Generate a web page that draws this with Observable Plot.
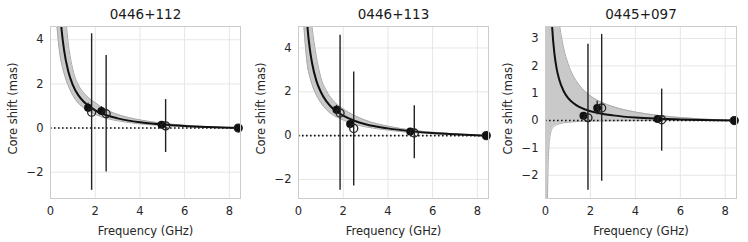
<!DOCTYPE html>
<html>
<head>
<meta charset="utf-8">
<script src="https://cdn.jsdelivr.net/npm/d3@7"></script>
<script src="https://cdn.jsdelivr.net/npm/@observablehq/plot@0.6"></script>
<style>
  html, body { margin: 0; padding: 0; background: #fff; }
  #wrap { position: relative; width: 748px; height: 242px; overflow: hidden; }
  #wrap > div { position: absolute; top: 0; }
  svg { overflow: visible; }
</style>
</head>
<body>
<div id="wrap"><div id="p1"></div><div id="p2"></div><div id="p3"></div></div>
<script>
// ---- Data ----
const titles = ["0446+112", "0446+113", "0445+097"];
const xTicks = [0, 2, 4, 6, 8];
const yTicks1 = [-2, 0, 2, 4];
const yTicks2 = [-2, 0, 2, 4];
const yTicks3 = [-2, -1, 0, 1, 2, 3];

// model curve + uncertainty band sampled at these frequencies (GHz)
const freqs1 = [0.1,0.2,0.3,0.4,0.5,0.6,0.8,1.0,1.25,1.5,2,2.5,3,4,5,6,7,8.4];
const center1 = [27.0,12.5,7.91,5.71,4.42,3.58,2.55,1.95,1.48,1.18,0.80,0.58,0.44,0.26,0.16,0.093,0.047,0];
const lower1  = [11.5,6.0,4.5,3.5,2.9,2.5,1.9,1.48,1.12,0.90,0.62,0.44,0.33,0.19,0.11,0.065,0.032,0];
const upper1  = [60,25,13,8.8,6.5,5.8,3.8,2.65,1.95,1.58,1.15,0.82,0.62,0.37,0.22,0.125,0.064,0];

const freqs2 = [0.1,0.2,0.3,0.4,0.5,0.6,0.8,1.0,1.25,1.5,2,2.5,3,4,5,6,7,8.4];
const center2 = [18.2,9.58,6.54,4.97,4.0,3.35,2.50,1.99,1.56,1.27,0.91,0.68,0.52,0.33,0.205,0.12,0.062,0];
const lower2  = [9.0,5.8,4.2,3.2,2.7,2.35,1.85,1.50,1.18,0.97,0.71,0.52,0.40,0.25,0.145,0.085,0.043,0];
const upper2  = [45,19,10.7,7.6,5.9,5.0,3.6,2.65,2.05,1.66,1.22,0.92,0.70,0.43,0.26,0.15,0.078,0];

const freqs3 = [0.03,0.05,0.07,0.1,0.15,0.2,0.3,0.4,0.5,0.6,0.8,1.0,1.25,1.5,2,2.5,3,4,5,6,7,8.4];
const center3 = [43.4,24.7,17.0,11.5,7.33,5.32,3.37,2.43,1.88,1.53,1.09,0.83,0.63,0.50,0.34,0.25,0.19,0.11,0.068,0.040,0.020,0];
const lower3  = [-25,-9.2,-4.7,-2.3,-1.0,-0.58,-0.28,-0.2,-0.15,-0.12,-0.08,-0.06,-0.045,-0.03,-0.02,-0.015,-0.01,-0.005,0,0,0,0];
const upper3  = [78.7,47.1,33.6,23.4,15.5,11.6,7.62,5.64,4.46,3.67,2.68,2.09,1.61,1.30,0.90,0.67,0.51,0.31,0.19,0.11,0.056,0];

// measured core shifts: filled markers (small errors)
const filledFreq1 = [1.68, 2.28, 4.97, 8.4];
const filledShift1 = [0.92, 0.77, 0.15, 0];
const filledErr1 = [0.2, 0.2, 0.08, 0];
const filledFreq2 = [1.70, 2.31, 5.0, 8.4];
const filledShift2 = [1.18, 0.53, 0.19, 0];
const filledErr2 = [0.2, 0.15, 0.08, 0];
const filledFreq3 = [1.69, 2.30, 4.99, 8.4];
const filledShift3 = [0.18, 0.46, 0.06, 0];
const filledErr3 = [0.1, 0.25, 0.05, 0];

// open markers with large error bars (last one is the reference frequency)
const openFreq1 = [1.84, 2.49, 5.15, 8.4];
const openShift1 = [0.72, 0.65, 0.10, 0];
const openLo1 = [-2.82, -1.99, -1.11, 0];
const openHi1 = [4.27, 3.29, 1.29, 0];
const openFreq2 = [1.86, 2.47, 5.18, 8.4];
const openShift2 = [1.03, 0.33, 0.12, 0];
const openLo2 = [-2.49, -2.30, -1.06, 0];
const openHi2 = [4.58, 2.90, 1.36, 0];
const openFreq3 = [1.89, 2.50, 5.17, 8.4];
const openShift3 = [0.10, 0.46, 0.03, 0];
const openLo3 = [-2.55, -2.22, -1.12, 0];
const openHi3 = [2.79, 3.15, 1.15, 0];

const yDomains = [[-3.19, 4.60], [-2.87, 4.98], [-2.85, 3.44]];
const refFreq = 8.4;

// ---- Build ----
const font = "DejaVu Sans, sans-serif";
const textColor = "#262626";

function panel(i, freqs, center, lower, upper, fF, fS, fE, oF, oS, oLo, oHi, yTicks, frameW) {
  const band = freqs.map((f, k) => ({f, c: center[k], lo: lower[k], hi: upper[k]}));
  const filled = fF.map((f, k) => ({f, s: fS[k], lo: fS[k] - fE[k], hi: fS[k] + fE[k]}));
  const open = oF.map((f, k) => ({f, s: oS[k], lo: oLo[k], hi: oHi[k]}));
  const mL = 50, mR = 6;
  return Plot.plot({
    width: mL + frameW + mR,
    height: 242,
    marginLeft: mL, marginRight: mR, marginTop: 26, marginBottom: 44,
    style: {fontFamily: font, fontSize: "11.5px", color: textColor, background: "transparent"},
    x: {domain: [0, 8.5]},
    y: {domain: yDomains[i]},
    marks: [
      Plot.gridX(xTicks, {stroke: "#e6e6e6", strokeOpacity: 1, strokeWidth: 1}),
      Plot.gridY(yTicks, {stroke: "#e6e6e6", strokeOpacity: 1, strokeWidth: 1}),
      Plot.areaY(band, {x: "f", y1: "lo", y2: "hi", fill: "#c9c9c9", curve: "monotone-x", clip: true}),
      Plot.lineY(band, {x: "f", y: "lo", stroke: "#a9a9a9", strokeWidth: 1, curve: "monotone-x", clip: true}),
      Plot.lineY(band, {x: "f", y: "hi", stroke: "#a9a9a9", strokeWidth: 1, curve: "monotone-x", clip: true}),
      Plot.ruleY([0], {x1: 0, x2: refFreq, stroke: "#111", strokeWidth: 1.6, strokeDasharray: "1.6,2.4"}),
      Plot.lineY(band, {x: "f", y: "c", stroke: "#111", strokeWidth: 2, curve: "monotone-x", clip: true}),
      Plot.ruleX(open, {x: "f", y1: "lo", y2: "hi", stroke: "#222", strokeWidth: 1.4}),
      Plot.ruleX(filled, {x: "f", y1: "lo", y2: "hi", stroke: "#222", strokeWidth: 1.4}),
      Plot.dot(filled, {x: "f", y: "s", r: 4, fill: "#111", stroke: "none"}),
      Plot.dot(open, {x: "f", y: "s", r: 4, fill: "none", stroke: "#222", strokeWidth: 1.3}),
      Plot.frame({stroke: "#cccccc", strokeWidth: 1}),
      Plot.axisX(xTicks, {tickSize: 0, tickPadding: 8, label: null, fill: textColor}),
      Plot.axisY(yTicks, {tickSize: 0, tickPadding: 7, label: null, fill: textColor}),
      Plot.text(["Frequency (GHz)"], {frameAnchor: "bottom", dy: 33, lineAnchor: "middle", textAnchor: "middle", fontSize: 11.5, fill: textColor}),
      Plot.text(["Core shift (mas)"], {frameAnchor: "left", dx: -37, dy: -4, rotate: -90, lineAnchor: "middle", textAnchor: "middle", fontSize: 11.5, fill: textColor}),
      Plot.text([titles[i]], {frameAnchor: "top", dy: -12, lineAnchor: "middle", textAnchor: "middle", fontSize: 13.5, fill: "#1a1a1a"})
    ]
  });
}

const p1 = panel(0, freqs1, center1, lower1, upper1, filledFreq1, filledShift1, filledErr1, openFreq1, openShift1, openLo1, openHi1, yTicks1, 190);
const p2 = panel(1, freqs2, center2, lower2, upper2, filledFreq2, filledShift2, filledErr2, openFreq2, openShift2, openLo2, openHi2, yTicks2, 190);
const p3 = panel(2, freqs3, center3, lower3, upper3, filledFreq3, filledShift3, filledErr3, openFreq3, openShift3, openLo3, openHi3, yTicks3, 191);

const d1 = document.getElementById("p1"); d1.style.left = "0px"; d1.appendChild(p1);
const d2 = document.getElementById("p2"); d2.style.left = "248px"; d2.appendChild(p2);
const d3 = document.getElementById("p3"); d3.style.left = "495px"; d3.appendChild(p3);
</script>
</body>
</html>
